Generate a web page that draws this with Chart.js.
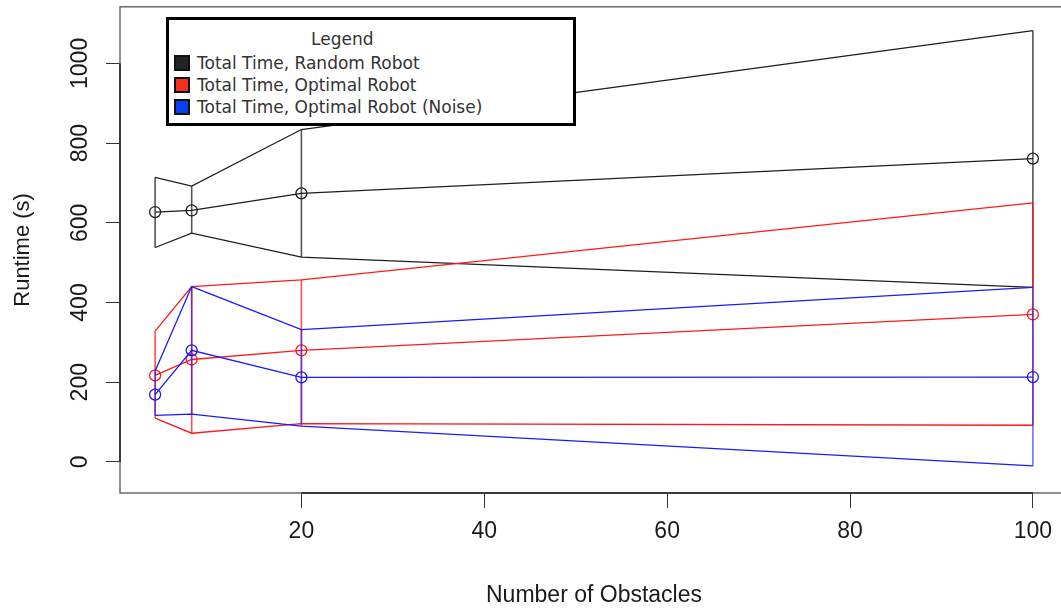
<!DOCTYPE html>
<html>
<head>
<meta charset="utf-8">
<script src="https://cdn.jsdelivr.net/npm/chart.js@4/dist/chart.umd.min.js"></script>
<style>
  body { margin: 0; width: 1061px; height: 612px; overflow: hidden; background: #fff; }
  #chart { position: absolute; left: 0; top: 0; }
  .legend-box { position: absolute; left: 166px; top: 17px; width: 410px; height: 109px; border: 3px solid #000; box-sizing: border-box; background: #fff; }
  .legend-text { position: absolute; font-family: "DejaVu Sans"; font-size: 17px; line-height: 16px; color: #333; white-space: nowrap; }
  .swatch { position: absolute; width: 16px; height: 16px; box-sizing: border-box; border: 2px solid #111; }
</style>
</head>
<body>
<canvas id="chart" width="1080" height="612"></canvas>
<div id="legend"></div>
<script>
// obstacles on x, runtime in seconds on y
const obstacles = [4, 8, 20, 100];
const xTicks = [20, 40, 60, 80, 100];
const yTicks = [0, 200, 400, 600, 800, 1000];

const randomMean = [627, 631, 674, 761];
const randomUpper = [714, 692, 834, 1082];
const randomLower = [538, 574, 514, 438];

const optimalMean = [217, 257, 280, 370];
const optimalUpper = [328, 440, 457, 650];
const optimalLower = [110, 72, 96, 92];

const noiseMean = [169, 280, 212, 213];
const noiseUpper = [228, 440, 332, 438];
const noiseLower = [117, 120, 90, -10];

const seriesNames = ["Total Time, Random Robot", "Total Time, Optimal Robot", "Total Time, Optimal Robot (Noise)"];
const lineColors = ["#1e1e1e", "#ff1a1a", "#1a1aff"];
const barColors = ["rgba(30,30,30,0.75)", "rgba(255,20,20,0.75)", "rgba(20,20,255,0.6)"];
const swatchColors = ["#222222", "#f2301f", "#0b3df5"];

function pts(ys) {
    return obstacles.map((x, i) => ({ x: x, y: ys[i] }));
}

// vertical segments upper -> lower at each x, split with gaps
function bars(up, lo) {
    const out = [];
    obstacles.forEach((x, i) => {
        out.push({ x: x, y: up[i] }, { x: x, y: lo[i] }, { x: x, y: null });
    });
    return out;
}

function seriesSets(mean, up, lo, k) {
    const base = { showLine: true, tension: 0, borderWidth: 1.3, fill: false, order: 3 - k };
    return [
        { ...base, data: bars(up, lo), borderColor: barColors[k], borderWidth: 1.6, pointRadius: 0, spanGaps: false },
        { ...base, data: pts(up), borderColor: lineColors[k], pointRadius: 0 },
        { ...base, data: pts(lo), borderColor: lineColors[k], pointRadius: 0 },
        {
            ...base, data: pts(mean), borderColor: lineColors[k],
            pointRadius: 5.5, pointBorderWidth: 1.3, pointBorderColor: lineColors[k],
            pointBackgroundColor: "rgba(0,0,0,0)", pointHoverRadius: 5.5,
        },
    ];
}

const datasets = [
    ...seriesSets(randomMean, randomUpper, randomLower, 0),
    ...seriesSets(optimalMean, optimalUpper, optimalLower, 1),
    ...seriesSets(noiseMean, noiseUpper, noiseLower, 2),
];

const axisText = {
    id: "axisText",
    afterDraw(chart) {
        const { ctx, chartArea: a, scales: { x, y } } = chart;
        ctx.save();
        ctx.strokeStyle = "#6a6a6a";
        ctx.lineWidth = 1.5;
        ctx.strokeRect(a.left, a.top, a.right - a.left, a.bottom - a.top);

        ctx.strokeStyle = "#222";
        ctx.lineWidth = 1.5;
        ctx.beginPath();
        ctx.moveTo(a.left, y.getPixelForValue(yTicks[0]));
        ctx.lineTo(a.left, y.getPixelForValue(yTicks[yTicks.length - 1]));
        ctx.moveTo(x.getPixelForValue(xTicks[0]), a.bottom);
        ctx.lineTo(x.getPixelForValue(xTicks[xTicks.length - 1]), a.bottom);
        ctx.stroke();

        ctx.fillStyle = "#1a1a1a";
        ctx.font = '23px "Liberation Sans"';
        ctx.textAlign = "center";
        ctx.textBaseline = "middle";
        yTicks.forEach((v) => {
            ctx.save();
            ctx.translate(81, y.getPixelForValue(v));
            ctx.rotate(-Math.PI / 2);
            ctx.fillText(String(v), 0, 0);
            ctx.restore();
        });
        xTicks.forEach((v) => {
            ctx.fillText(String(v), x.getPixelForValue(v), 532);
        });

        // axis titles
        ctx.fillText("Number of Obstacles", (a.left + a.right) / 2, 596);

        ctx.save();
        ctx.translate(23, (a.top + a.bottom) / 2);
        ctx.rotate(-Math.PI / 2);
        ctx.font = '22px "Liberation Sans"';
        ctx.fillText("Runtime (s)", 0, 0);
        ctx.restore();
        ctx.restore();
    },
};

new Chart(document.getElementById("chart"), {
    type: "scatter",
    data: { datasets: datasets },
    options: {
        responsive: false,
        animation: false,
        devicePixelRatio: 1,
        layout: { padding: { top: 6, right: 12, left: 0, bottom: 0 } },
        plugins: { legend: { display: false }, tooltip: { enabled: false } },
        scales: {
            x: {
                type: "linear",
                min: 0.16,
                max: 103.84,
                afterFit: (s) => { s.height = 119; },
                afterBuildTicks: (s) => { s.ticks = xTicks.map((v) => ({ value: v })); },
                ticks: { display: false },
                grid: { drawOnChartArea: false, drawTicks: true, tickLength: 15, color: "#333", lineWidth: 1 },
                border: { display: false },
            },
            y: {
                type: "linear",
                min: -78,
                max: 1142,
                afterFit: (s) => { s.width = 120; },
                afterBuildTicks: (s) => { s.ticks = yTicks.map((v) => ({ value: v })); },
                ticks: { display: false },
                grid: { drawOnChartArea: false, drawTicks: true, tickLength: 14, color: "#333", lineWidth: 1 },
                border: { display: false },
            },
        },
    },
    plugins: [axisText],
});

// legend box in the top-left of the plot
const legend = document.getElementById("legend");
let html = '<div class="legend-box"></div>';
html += '<div class="legend-text" style="left:311px;top:31px">Legend</div>';
seriesNames.forEach((name, i) => {
    const top = 55 + i * 22;
    html += `<div class="swatch" style="left:174px;top:${top}px;background:${swatchColors[i]}"></div>`;
    html += `<div class="legend-text" style="left:197px;top:${top}px">${name}</div>`;
});
legend.innerHTML = html;
</script>
</body>
</html>
